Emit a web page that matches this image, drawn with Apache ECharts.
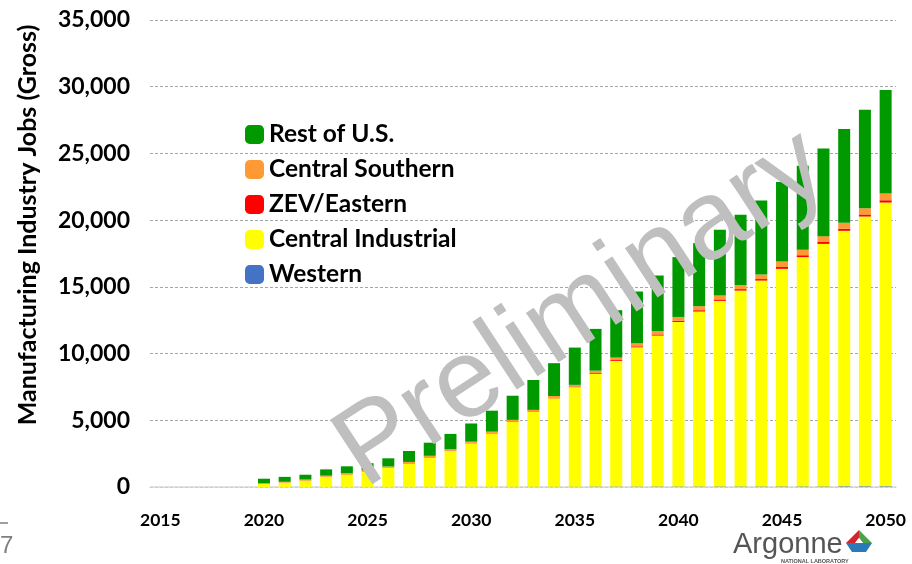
<!DOCTYPE html>
<html>
<head>
<meta charset="utf-8">
<script src="https://cdn.jsdelivr.net/npm/echarts@6/dist/echarts.min.js"></script>
<style>html,body{margin:0;padding:0;background:#fff}#c{width:912px;height:564px}</style>
</head>
<body>
<div id="c"></div>
<script>
const years = [];
for (let y = 2015; y <= 2050; y++) years.push(String(y));
const yTicks = [0, 5000, 10000, 15000, 20000, 25000, 30000, 35000];

// 2015..2050
const western = [0,0,0,0,0,
  5,5,5,10,10,10,10,15,15,15,20,20,20,25,25,25,30,30,30,35,35,35,40,40,40,45,45,45,50,50,50];
const centralIndustrial = [0,0,0,0,0,
  225,325,485,760,940,1160,1430,1755,2205,2705,3260,4000,4860,5595,6625,7455,8440,9420,10440,11315,12335,13115,13910,14680,15430,16305,17185,18175,19150,20220,21270];
const zevEastern = [0,0,0,0,0,
  15,15,20,20,25,25,25,30,30,30,35,35,40,40,45,50,60,65,75,85,100,100,105,110,115,140,140,145,150,155,170];
const centralSouthern = [0,0,0,0,0,
  35,45,50,60,65,75,75,80,90,90,85,95,110,120,125,125,190,185,225,245,275,300,295,310,335,410,410,435,450,465,500];
const restOfUS = [0,0,0,0,0,
  340,370,360,470,510,510,610,820,980,1140,1360,1570,1810,2240,2460,2795,3130,3550,3880,4170,4485,4730,4930,5260,5550,5950,6300,6570,7030,7390,7760];

const FONT = 'Lato';
const chart = echarts.init(document.getElementById('c'), null, {renderer: 'canvas'});

function bar(name, data, color) {
  return {name, type: 'bar', stack: 'jobs', data, barWidth: 12,
    itemStyle: {color}, emphasis: {disabled: true}};
}

chart.setOption({
  animation: false,
  backgroundColor: '#ffffff',
  grid: {left: 150, right: 16, top: 20, bottom: 77, containLabel: false},
  legend: {
    orient: 'vertical', left: 240, top: 117,
    data: ['Rest of U.S.', 'Central Southern', 'ZEV/Eastern', 'Central Industrial', 'Western'],
    icon: 'roundRect', itemWidth: 19, itemHeight: 19, itemGap: 10,
    textStyle: {fontFamily: FONT, fontWeight: 'bold', fontSize: 24.5, color: '#000', lineHeight: 25},
    selectedMode: false
  },
  xAxis: {
    type: 'category', data: years,
    axisTick: {show: false},
    axisLine: {lineStyle: {color: '#d9d9d9', width: 1.5}},
    axisLabel: {interval: 4, margin: 24, fontFamily: FONT, fontWeight: 'bold', fontSize: 17.5, color: '#000'}
  },
  yAxis: {
    type: 'value', min: yTicks[0], max: yTicks[yTicks.length - 1], interval: 5000,
    axisLine: {show: false}, axisTick: {show: false},
    axisLabel: {margin: 20, fontFamily: FONT, fontWeight: 'bold', fontSize: 23, color: '#000',
      formatter: v => v.toLocaleString('en-US')},
    splitLine: {lineStyle: {color: '#a6a6a6', type: [3, 2], width: 1}}
  },
  series: [
    bar('Western', western, '#4472c4'),
    bar('Central Industrial', centralIndustrial, '#ffff00'),
    bar('ZEV/Eastern', zevEastern, '#ff0000'),
    bar('Central Southern', centralSouthern, '#ff9933'),
    bar('Rest of U.S.', restOfUS, '#009900')
  ],
  graphic: [
    {type: 'text', x: 28, y: 225, rotation: Math.PI / 2, z: 10,
      style: {text: 'Manufacturing Industry Jobs (Gross)', fontFamily: FONT, fontWeight: 'bold', fontSize: 25,
        fill: '#000', textAlign: 'center', textVerticalAlign: 'middle'}},
    {type: 'text', x: 582, y: 310, rotation: 0.58, z: 20,
      style: {text: 'Preliminary', fontFamily: 'Liberation Sans', fontSize: 112,
        fill: '#bfbfbf', textAlign: 'center', textVerticalAlign: 'middle'}},
    {type: 'text', x: 0, y: 546, z: 10,
      style: {text: '7', fontFamily: 'Liberation Sans', fontSize: 24, fill: '#7f7f7f', textVerticalAlign: 'middle'}},
    {type: 'line', z: 10, shape: {x1: 0, y1: 523, x2: 8, y2: 523}, style: {stroke: '#7f7f7f', lineWidth: 1.5}},
    {type: 'text', x: 733, y: 545, z: 10,
      style: {text: 'Argonne', fontFamily: 'Liberation Sans', fontSize: 29, fill: '#555555', textVerticalAlign: 'middle'}},
    {type: 'text', x: 781, y: 561, z: 10,
      style: {text: 'NATIONAL LABORATORY', fontFamily: 'Liberation Sans', fontWeight: 'bold', fontSize: 5.5, fill: '#555555', textVerticalAlign: 'middle'}},
    {type: 'polygon', z: 10, shape: {points: [[859, 530], [846, 543], [855, 543], [859, 538]]}, style: {fill: '#d7262b'}},
    {type: 'polygon', z: 10, shape: {points: [[859, 530], [872, 543], [863, 543], [859, 538]]}, style: {fill: '#4aa34a'}},
    {type: 'polygon', z: 10, shape: {points: [[846, 543], [872, 543], [866, 552], [852, 552]]}, style: {fill: '#2a7ab8'}},
    {type: 'polygon', z: 11, shape: {points: [[855, 543], [863, 543], [859, 538]]}, style: {fill: '#ffffff'}}
  ]
});
</script>
</body>
</html>
